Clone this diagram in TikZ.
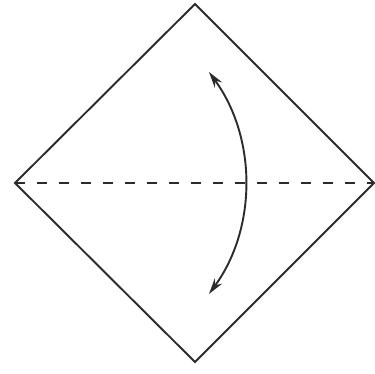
\documentclass[tikz,border=0pt]{standalone}
\usetikzlibrary{arrows.meta}
\definecolor{ink}{HTML}{2B2B2B}
\tikzset{
  edge/.style={draw=ink, line width=1.9pt, line join=miter},
  fold/.style={draw=ink, line width=1.9pt, dash pattern=on 10pt off 12pt},
  turn/.style={draw=ink, line width=1.9pt, {Stealth[length=16pt,width=9pt]}-{Stealth[length=16pt,width=9pt]}}
}
\begin{document}
\begin{tikzpicture}[x=1pt,y=-1pt]
\useasboundingbox[fill=white] (0,0) rectangle (375,374);
\coordinate (T) at (195,4);
\coordinate (L) at (15,183);
\coordinate (R) at (374,183);
\coordinate (B) at (195,362);
\coordinate (a1) at (209,72);
\coordinate (a2) at (209,294);
\draw[edge] (T) -- (R) -- (B) -- (L) -- cycle;
\draw[fold] (L) -- (R);
\draw[turn] (a1) .. controls (257,138) and (257,228) .. (a2);
\end{tikzpicture}
\end{document}
